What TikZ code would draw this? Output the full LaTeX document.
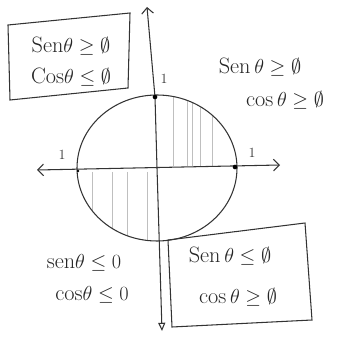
\documentclass[tikz,border=0pt]{standalone}
\usetikzlibrary{arrows.meta}
\begin{document}
\begin{tikzpicture}[x=0.03cm, y=0.03cm, line width=0.9pt, draw=black!80,
    signtext/.style={font=\fontsize{19}{23}\selectfont, text=black!85, inner sep=0pt},
    onelabel/.style={font=\large, text=black!80},
    hatch/.style={black!25, line width=0.5pt}]
    \def\crx{80}
    \def\cry{73}
    \useasboundingbox (0,0) rectangle (344,338);
    % Hatching
    \begin{scope}
        \clip (157,170) ellipse ({\crx} and {\cry});
        \foreach \hx in {173,187,192,200,212} \draw[hatch] (\hx,172) -- (\hx,250);
        \foreach \hx in {92,112,127,147} \draw[hatch] (\hx,166) -- (\hx,90);
    \end{scope}
    % Circle
    \draw (157,170) ellipse ({\crx} and {\cry});
    % Axes
    \coordinate (ytop) at (147,331);
    \coordinate (ymid) at (155,241);
    \coordinate (orig) at (157,170);
    \coordinate (ybot) at (162,7);
    \coordinate (xleft) at (37,168);
    \coordinate (xright) at (280,173);
    \draw[{Straight Barb[length=5pt]}-{Triangle[open,length=7pt,width=6pt]}]
        (ytop) -- (ymid) -- (orig) -- (ybot);
    \draw[{Straight Barb[length=5pt]}-{Straight Barb[length=5pt]}] (xleft) -- (xright);
    % Unit marks
    \fill (ymid) circle (2pt);
    \fill (235,171) circle (2pt);
    \fill (78,167) circle (1.2pt);
    \node[onelabel] (one-y) at (164,259) {1};
    \node[onelabel] (one-xl) at (62,183) {1};
    \node[onelabel] (one-xr) at (252,185) {1};
    % Boxes
    \draw (8,313) -- (130,325) -- (128,250) -- (10,238) -- cycle;
    \draw (168,98) -- (305,115) -- (312,18) -- (172,11) -- cycle;
    % Signs
    \node[signtext] (s2) at (71,292) {Sen$\theta\geq\emptyset$};
    \node[signtext] (c2) at (71,261) {Cos$\theta\leq\emptyset$};
    \node[signtext] (s1) at (260,271) {Sen\,$\theta\geq\emptyset$};
    \node[signtext] (c1) at (285,238) {cos\,$\theta\geq\emptyset$};
    \node[signtext] (s3) at (84,75) {sen$\theta\leq0$};
    \node[signtext] (c3) at (92,43) {cos$\theta\leq0$};
    \node[signtext] (s4) at (230,82) {Sen\,$\theta\leq\emptyset$};
    \node[signtext] (c4) at (238,41) {cos\,$\theta\geq\emptyset$};
\end{tikzpicture}
\end{document}
